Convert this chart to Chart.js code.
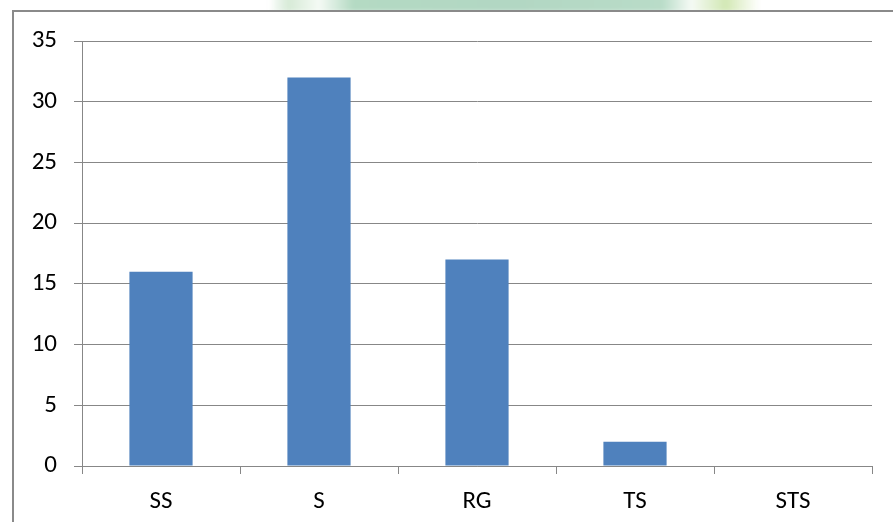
<!DOCTYPE html>
<html>
<head>
<meta charset="utf-8">
<script src="https://cdn.jsdelivr.net/npm/chart.js@4.4.1/dist/chart.umd.min.js"></script>
<style>
  html, body { margin: 0; padding: 0; background: #ffffff; }
  #wrap { position: relative; width: 893px; height: 522px; }
</style>
</head>
<body>
<div id="wrap"><canvas id="chart" width="893" height="522"></canvas></div>
<script>
// Categories and counts
const categories = ['SS', 'S', 'RG', 'TS', 'STS'];
const counts = [16, 32, 17, 2, 0];
const yTicks = [0, 5, 10, 15, 20, 25, 30, 35];

const GRID = '#878787';
const BAR = '#4f81bd';
const FONT = { family: 'Carlito, Lato, "Liberation Sans", sans-serif', size: 25 };

// Frame around the plot and faint green header band above it
const framePlugin = {
  id: 'frame',
  beforeDraw(chart) {
    const ctx = chart.ctx;
    ctx.save();
    ctx.fillStyle = '#ffffff';
    ctx.fillRect(0, 0, chart.width, chart.height);
    // soft header band
    ctx.filter = 'blur(2px)';
    const g = ctx.createLinearGradient(270, 0, 760, 0);
    g.addColorStop(0, 'rgba(200,228,205,0)');
    g.addColorStop(0.04, 'rgba(215,235,215,1)');
    g.addColorStop(0.1, 'rgba(245,250,245,1)');
    g.addColorStop(0.17, 'rgba(180,218,195,1)');
    g.addColorStop(0.5, 'rgba(178,215,195,1)');
    g.addColorStop(0.8, 'rgba(185,220,200,1)');
    g.addColorStop(0.86, 'rgba(245,250,245,1)');
    g.addColorStop(0.93, 'rgba(210,232,180,1)');
    g.addColorStop(1, 'rgba(215,235,185,0)');
    ctx.fillStyle = g;
    ctx.fillRect(270, -6, 490, 18);
    ctx.filter = 'none';
    ctx.fillStyle = '#ffffff';
    ctx.fillRect(0, 11, chart.width, chart.height);
    // frame lines
    ctx.strokeStyle = '#8a8a8a';
    ctx.lineWidth = 2;
    ctx.beginPath();
    ctx.moveTo(13, chart.height);
    ctx.lineTo(13, 11);
    ctx.lineTo(chart.width, 11);
    ctx.stroke();
    ctx.restore();
  }
};

new Chart(document.getElementById('chart'), {
  type: 'bar',
  data: {
    labels: categories,
    datasets: [{
      data: counts,
      backgroundColor: BAR,
      borderWidth: 0,
      categoryPercentage: 0.4,
      barPercentage: 1.0
    }]
  },
  options: {
    responsive: false,
    animation: false,
    devicePixelRatio: 1,
    layout: { padding: { left: 13, top: 41, right: 21, bottom: 0 } },
    plugins: {
      legend: { display: false },
      tooltip: { enabled: false }
    },
    scales: {
      x: {
        offset: true,
        grid: {
          offset: true,
          drawOnChartArea: false,
          drawTicks: true,
          tickLength: 8,
          color: GRID,
          lineWidth: 1
        },
        border: { color: GRID, width: 1 },
        ticks: { color: '#000000', font: FONT, padding: 13, maxRotation: 0 },
        afterFit(scale) { scale.height = 56; }
      },
      y: {
        min: 0,
        max: 35,
        afterBuildTicks(scale) { scale.ticks = yTicks.map(v => ({ value: v })); },
        grid: { color: GRID, lineWidth: 1, tickLength: 8 },
        border: { color: GRID, width: 1 },
        ticks: { color: '#000000', font: FONT, padding: 17 },
        afterFit(scale) { scale.width = 69; }
      }
    }
  },
  plugins: [framePlugin]
});
</script>
</body>
</html>
